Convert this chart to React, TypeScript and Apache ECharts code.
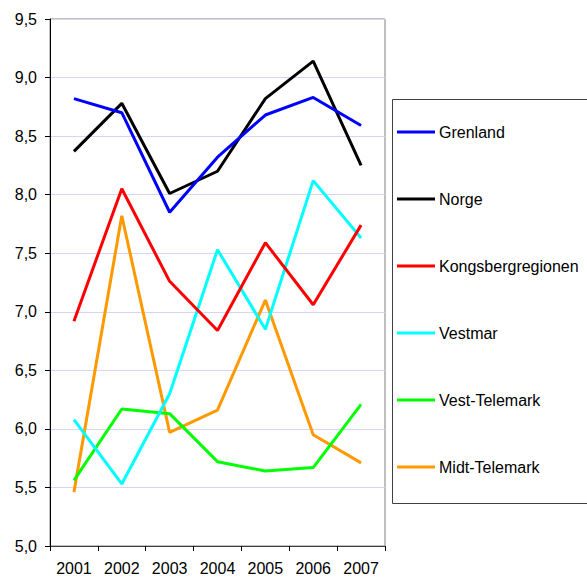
import React, { useEffect, useRef } from "react";
import * as echarts from "echarts";

const years = ["2001", "2002", "2003", "2004", "2005", "2006", "2007"];
const seriesNames = ["Grenland", "Norge", "Kongsbergregionen", "Vestmar", "Vest-Telemark", "Midt-Telemark"];
const grenland = [8.82, 8.70, 7.85, 8.32, 8.68, 8.83, 8.59];
const norge = [8.37, 8.78, 8.01, 8.20, 8.82, 9.14, 8.25];
const kongsberg = [6.92, 8.05, 7.26, 6.84, 7.59, 7.06, 7.74];
const vestmar = [6.08, 5.53, 6.30, 7.53, 6.85, 8.12, 7.63];
const vestTelemark = [5.56, 6.17, 6.13, 5.72, 5.64, 5.67, 6.21];
const midtTelemark = [5.46, 7.82, 5.97, 6.16, 7.10, 5.95, 5.71];
const colors = ["#0000ff", "#000000", "#ff0000", "#00ffff", "#00ff00", "#ff9900"];
const yTicks = { min: 5, max: 9.5, interval: 0.5 };

export default function App() {
  const ref = useRef<HTMLDivElement>(null);
  useEffect(() => {
    if (!ref.current) return;
    const chart = echarts.init(ref.current, null, { renderer: "svg" });
    const data = [grenland, norge, kongsberg, vestmar, vestTelemark, midtTelemark];
    const font = "'Liberation Sans', Arial, sans-serif";
    chart.setOption({
      animation: false,
      backgroundColor: "#ffffff",
      grid: {
        left: 50,
        top: 19,
        right: 202,
        bottom: 32,
        show: true,
        borderColor: "#808080",
        borderWidth: 1,
      },
      xAxis: {
        type: "category",
        data: years,
        boundaryGap: true,
        axisLine: { lineStyle: { color: "#404040", width: 1 } },
        axisTick: { show: true, length: 5, alignWithLabel: false, lineStyle: { color: "#000000" } },
        axisLabel: { color: "#000000", fontSize: 16, fontFamily: font, margin: 14, interval: 0 },
        splitLine: { show: false },
      },
      yAxis: {
        type: "value",
        min: yTicks.min,
        max: yTicks.max,
        interval: yTicks.interval,
        axisLine: { show: true, lineStyle: { color: "#000000", width: 1 } },
        axisTick: { show: true, length: 5, inside: false, lineStyle: { color: "#000000" } },
        axisLabel: {
          color: "#000000",
          fontSize: 16,
          fontFamily: font,
          margin: 13,
          formatter: (v: number) => v.toFixed(1).replace(".", ","),
        },
        splitLine: { show: true, lineStyle: { color: "#d4d4f4", width: 1 } },
      },
      legend: {
        orient: "vertical",
        left: 397,
        top: 122,
        padding: 0,
        itemGap: 47,
        itemWidth: 38,
        itemHeight: 3,
        icon: "rect",
        data: seriesNames,
        textStyle: { color: "#000000", fontSize: 16, fontFamily: font, lineHeight: 20, padding: [0, 0, 0, -1] },
      },
      graphic: [
        {
          type: "rect",
          shape: { x: 392.5, y: 99.5, width: 220, height: 404 },
          style: { fill: "none", stroke: "#404040", lineWidth: 1 },
          silent: true,
        },
      ],
      series: seriesNames.map((name, i) => ({
        name,
        type: "line",
        data: data[i],
        symbol: "none",
        lineStyle: { color: colors[i], width: 3 },
        itemStyle: { color: colors[i] },
        z: 10 - i,
      })),
    });
    return () => chart.dispose();
  }, []);
  return <div ref={ref} style={{ position: "fixed", left: 0, top: 0, width: 587, height: 578 }} />;
}
